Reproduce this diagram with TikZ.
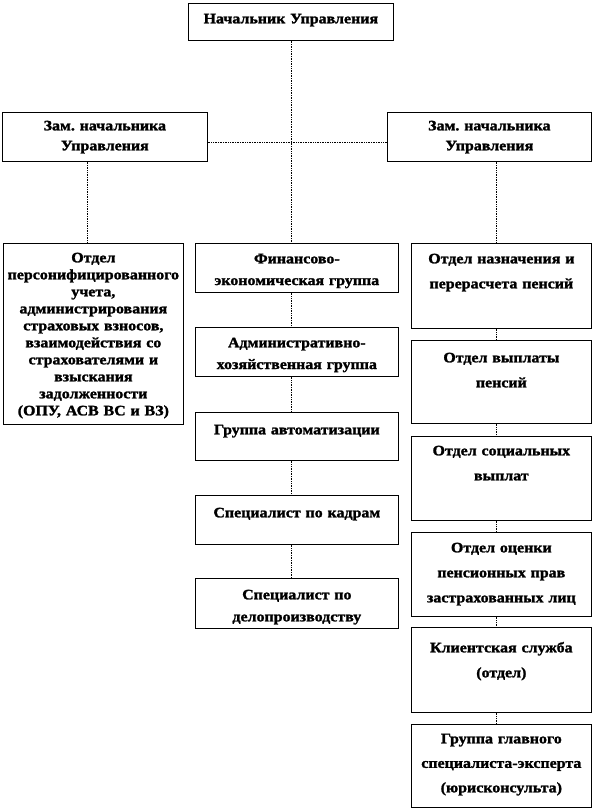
\documentclass[tikz,border=0pt]{standalone}
\usepackage{fontspec}
\setmainfont{Liberation Serif}[FakeStretch=1.1, BoldFeatures={FakeBold=1.6}]
\frenchspacing

\begin{document}
\begin{tikzpicture}[x=1pt,y=-1pt]
\tikzset{
	unit/.style={draw,
		anchor=north west,
		inner sep=0pt,
		align=center,
		line width=0.7pt,
		text height=20pt,
		font=\bfseries\fontsize{14.5}{20}\selectfont
	},
	spacing/.style={font=\bfseries\fontsize{14.5}{#1}\selectfont},
	link/.style={densely dotted, line width=0.7pt}
}
\useasboundingbox (0,0) rectangle (594,810);
% top of the chart
\node[unit, text width=205pt, text depth=17pt] (CHIEF) at (188,3) {Начальник Управления};
\node[unit, text width=205pt, text height=18pt, text depth=31pt] (DEPL) at (2,112) {Зам. начальника\\Управления};
\node[unit, text width=204pt, text height=18pt, text depth=31pt] (DEPR) at (387,112) {Зам. начальника\\Управления};
% left column
\node[unit, spacing=17pt, text width=180pt, text height=19pt, text depth=162pt] (OPU) at (3,243) {Отдел\\персонифицированного\\учета,\\администрирования\\страховых взносов,\\взаимодействия со\\страхователями и\\взыскания\\задолженности\\(ОПУ, АСВ ВС и ВЗ)};
% middle column
\node[unit, spacing=21.7pt, text width=203pt, text depth=29pt] (FIN) at (195,243) {Финансово-\\экономическая группа};
\node[unit, spacing=21.7pt, text width=203pt, text depth=29pt] (ADM) at (195,327) {Административно-\\хозяйственная группа};
\node[unit, text width=203pt, text height=22pt, text depth=26pt] (AUTO) at (195,412) {Группа автоматизации};
\node[unit, text width=203pt, text height=22pt, text depth=27pt] (HR) at (195,495) {Специалист по кадрам};
\node[unit, spacing=22pt, text width=203pt, text height=21pt, text depth=29pt] (DOC) at (195,578) {Специалист по\\делопроизводству};
% right column
\node[unit, spacing=25pt, text width=180pt, text depth=65pt] (NAZ) at (411,243) {Отдел назначения и\\перерасчета пенсий};
\node[unit, spacing=25pt, text width=180pt, text height=22pt, text depth=61pt] (VYP) at (411,340) {Отдел выплаты\\пенсий};
\node[unit, spacing=25pt, text width=180pt, text height=19pt, text depth=65pt] (SOC) at (411,436) {Отдел социальных\\выплат};
\node[unit, spacing=25pt, text width=180pt, text depth=64pt] (OCEN) at (411,532) {Отдел оценки\\пенсионных прав\\застрахованных лиц};
\node[unit, spacing=25pt, text width=180pt, text height=25pt, text depth=60pt] (KLIENT) at (411,627) {Клиентская служба\\(отдел)};
\node[unit, spacing=24.5pt, text width=180pt, text height=19pt, text depth=64pt] (JUR) at (411,724) {Группа главного\\специалиста-эксперта\\(юрисконсульта)};

\coordinate (LX) at (87,0);
\coordinate (MX) at (291,0);
\coordinate (RX) at (496,0);

\draw[link] (CHIEF.south -| MX) -- (FIN.north -| MX);
\draw[link] ([yshift=-5.5pt]DEPL.east) -- ([yshift=-5.5pt]DEPR.west);
\draw[link] (DEPL.south -| LX) -- (OPU.north -| LX);
\draw[link] (DEPR.south -| RX) -- (NAZ.north -| RX);

\draw[link] (FIN.south -| MX) -- (ADM.north -| MX);
\draw[link] (ADM.south -| MX) -- (AUTO.north -| MX);
\draw[link] (AUTO.south -| MX) -- (HR.north -| MX);
\draw[link] (HR.south -| MX) -- (DOC.north -| MX);

\draw[link] (NAZ.south -| RX) -- (VYP.north -| RX);
\draw[link] (VYP.south -| RX) -- (SOC.north -| RX);
\draw[link] (SOC.south -| RX) -- (OCEN.north -| RX);
\draw[link] (OCEN.south -| RX) -- (KLIENT.north -| RX);
\draw[link] (KLIENT.south -| RX) -- (JUR.north -| RX);
\end{tikzpicture}
\end{document}
